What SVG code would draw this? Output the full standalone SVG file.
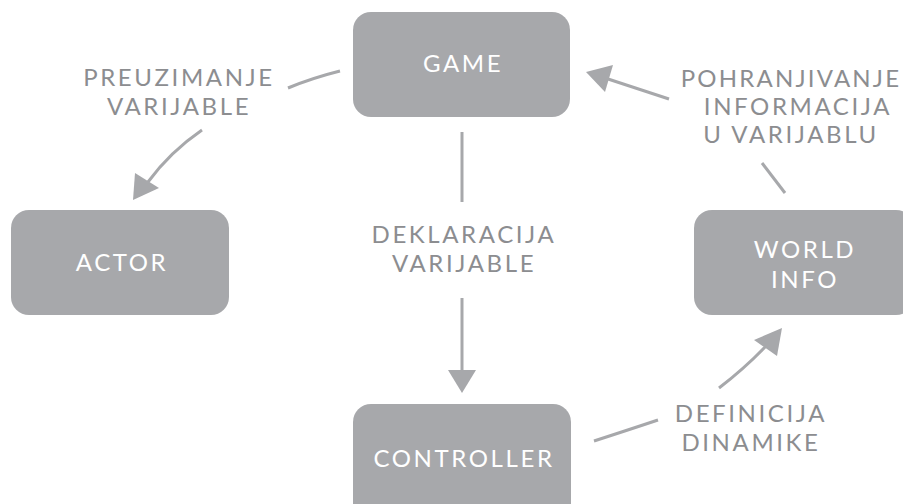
<svg xmlns="http://www.w3.org/2000/svg" width="903" height="504" viewBox="0 0 903 504">
<style>
.box{fill:#a7a8ab}
.bt{fill:#ffffff;font-family:Lato,"Liberation Sans",sans-serif;font-size:24px;letter-spacing:2.6px;text-anchor:middle}
.lt{fill:#8c8d90;font-family:Lato,"Liberation Sans",sans-serif;font-size:24px;letter-spacing:2.6px;text-anchor:middle}
.ln{fill:none;stroke:#a7a8ab;stroke-width:3}
.ah{fill:#a7a8ab}
</style>
<rect width="903" height="504" fill="#ffffff"/>
<g id="game"><rect class="box" x="353" y="12" width="217" height="105" rx="18"/><text class="bt" x="463" y="72">GAME</text></g>
<g id="actor"><rect class="box" x="11" y="210" width="218" height="105" rx="18"/><text class="bt" x="122" y="271">ACTOR</text></g>
<g id="controller"><rect class="box" x="353" y="404" width="218" height="120" rx="18"/><text class="bt" x="464" y="467">CONTROLLER</text></g>
<g id="worldinfo"><rect class="box" x="694" y="210" width="220" height="105" rx="18"/><text class="bt" x="805" y="258">WORLD</text><text class="bt" x="805" y="288">INFO</text></g>
<g id="labels">
<text class="lt" x="179" y="86">PREUZIMANJE</text><text class="lt" x="179" y="115">VARIJABLE</text>
<text class="lt" x="464" y="243">DEKLARACIJA</text><text class="lt" x="464" y="272">VARIJABLE</text>
<text class="lt" x="791" y="87" style="letter-spacing:2.2px">POHRANJIVANJE</text><text class="lt" x="798" y="115">INFORMACIJA</text><text class="lt" x="791" y="143">U VARIJABLU</text>
<text class="lt" x="751" y="422">DEFINICIJA</text><text class="lt" x="751" y="451">DINAMIKE</text>
</g>
<g id="connectors">
<path class="ln" d="M288 88 Q312 78 340 71"/>
<path class="ln" d="M202 130 Q170 152 148 182"/>
<polygon class="ah" points="133,200 135,173 159,188"/>
<path class="ln" d="M462 132 L462 202"/>
<path class="ln" d="M462 298 L462 372"/>
<polygon class="ah" points="448,370 476,370 462,393"/>
<path class="ln" d="M669 99 L605 78"/>
<polygon class="ah" points="586,72 613,65 605,92"/>
<path class="ln" d="M762 163 L785 193"/>
<path class="ln" d="M594 441 Q628 430 658 420"/>
<path class="ln" d="M719 388 Q745 368 766 346"/>
<polygon class="ah" points="782,328 754,340 777,356"/>
</g>
</svg>
